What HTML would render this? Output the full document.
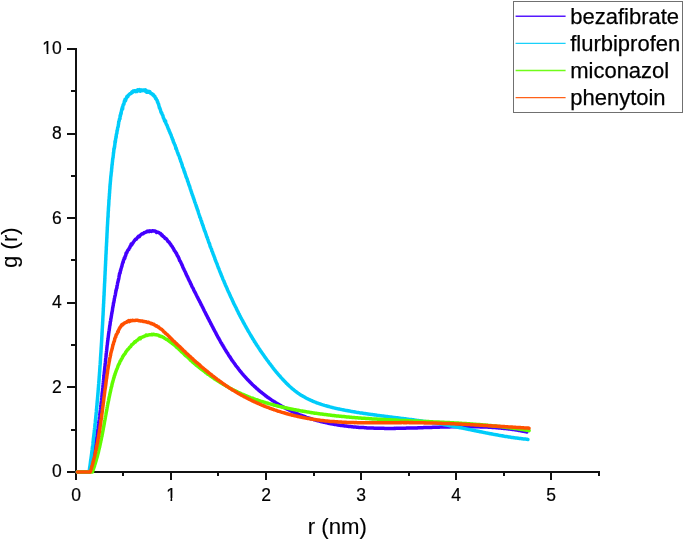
<!DOCTYPE html>
<html><head><meta charset="utf-8"><title>g(r)</title>
<style>html,body{margin:0;padding:0;background:#fff;}body{width:685px;height:540px;overflow:hidden;}svg{display:block;}</style>
</head><body>
<svg width="685" height="540" viewBox="0 0 685 540">
<rect width="685" height="540" fill="#fff"/>
<g stroke="#111" stroke-width="2" fill="none" shape-rendering="crispEdges">
<path d="M75 472 H600"/>
<path d="M76 473 V48"/>
<path d="M76 472 V480"/>
<path d="M123 472 V476"/>
<path d="M171 472 V480"/>
<path d="M218 472 V476"/>
<path d="M266 472 V480"/>
<path d="M314 472 V476"/>
<path d="M361 472 V480"/>
<path d="M409 472 V476"/>
<path d="M456 472 V480"/>
<path d="M504 472 V476"/>
<path d="M551 472 V480"/>
<path d="M599 472 V476"/>
<path d="M76 472 H67"/>
<path d="M76 430 H71"/>
<path d="M76 387 H67"/>
<path d="M76 345 H71"/>
<path d="M76 303 H67"/>
<path d="M76 260 H71"/>
<path d="M76 218 H67"/>
<path d="M76 176 H71"/>
<path d="M76 134 H67"/>
<path d="M76 91 H71"/>
<path d="M76 49 H67"/>
</g>
<path d="M77.3 472.0 L89.3 472.0 L89.5 471.2 L89.7 470.4 L89.9 469.7 L90.1 468.9 L90.3 468.1 L90.5 467.3 L90.7 466.6 L90.9 465.8 L91.1 465.0 L91.3 464.2 L91.5 463.4 L91.6 462.6 L91.8 461.8 L92.0 461.1 L92.2 460.3 L92.3 459.5 L92.5 458.7 L92.7 457.9 L92.9 457.1 L93.0 456.3 L93.2 455.6 L93.4 454.8 L93.5 454.0 L93.7 453.2 L93.8 452.5 L94.0 451.6 L94.1 450.9 L94.3 450.1 L94.4 449.3 L94.6 448.5 L94.7 447.7 L94.9 446.9 L95.0 446.1 L95.2 445.5 L95.3 444.6 L95.5 443.8 L95.6 443.1 L95.7 442.2 L95.9 441.4 L96.0 440.7 L96.1 439.9 L96.3 439.0 L96.4 438.3 L96.5 437.6 L96.7 436.6 L96.8 436.0 L96.9 435.2 L97.0 434.3 L97.2 433.7 L97.3 432.8 L97.4 431.9 L97.5 431.2 L97.7 430.5 L97.8 429.6 L97.9 428.9 L98.0 428.0 L98.1 427.3 L98.2 426.6 L98.3 425.6 L98.5 424.9 L98.6 424.0 L98.7 423.3 L98.8 422.4 L98.9 421.7 L99.0 420.9 L99.1 420.2 L99.2 419.5 L99.3 418.4 L99.4 417.7 L99.5 417.0 L99.6 415.9 L99.7 415.3 L99.8 414.6 L99.9 413.9 L100.0 413.1 L100.1 412.2 L100.2 411.4 L100.3 410.6 L100.4 410.0 L100.5 409.0 L100.6 408.2 L100.7 407.5 L100.8 406.6 L100.8 405.8 L100.9 404.9 L101.0 404.3 L101.1 403.4 L101.2 402.9 L101.3 402.0 L101.4 401.1 L101.5 400.4 L101.6 399.4 L101.6 398.9 L101.7 397.9 L101.8 397.2 L101.9 396.1 L102.0 395.6 L102.1 394.5 L102.1 393.6 L102.2 393.1 L102.3 392.2 L102.4 391.6 L102.5 391.1 L102.6 389.8 L102.6 389.1 L102.7 388.4 L102.8 387.7 L102.9 386.7 L103.0 385.9 L103.0 385.3 L103.1 384.5 L103.2 383.4 L103.3 382.8 L103.4 382.0 L103.4 381.0 L103.5 380.5 L103.6 379.4 L103.7 379.0 L103.8 378.1 L103.8 377.2 L103.9 376.3 L104.0 375.6 L104.1 374.4 L104.2 373.8 L104.2 373.3 L104.3 372.0 L104.4 371.8 L104.5 370.5 L104.6 370.2 L104.6 369.1 L104.7 368.7 L104.8 367.7 L104.9 366.5 L105.0 366.4 L105.1 365.6 L105.1 364.5 L105.2 363.6 L105.3 362.9 L105.4 361.9 L105.5 361.6 L105.6 360.4 L105.6 359.7 L105.7 358.7 L105.8 358.0 L105.9 357.0 L106.0 356.9 L106.1 355.7 L106.1 355.2 L106.2 354.2 L106.3 353.2 L106.4 352.5 L106.5 351.6 L106.6 351.0 L106.7 350.1 L106.8 349.3 L106.9 348.2 L106.9 347.6 L107.0 347.4 L107.1 346.0 L107.2 345.1 L107.3 344.7 L107.4 344.2 L107.5 342.6 L107.6 342.2 L107.7 341.3 L107.8 340.2 L107.9 340.1 L108.0 339.1 L108.1 338.3 L108.2 337.3 L108.3 336.8 L108.4 335.7 L108.5 335.1 L108.6 334.0 L108.7 333.1 L108.8 333.1 L108.9 331.8 L109.0 331.2 L109.2 330.3 L109.3 329.4 L109.4 328.6 L109.5 328.2 L109.6 327.1 L109.7 326.3 L109.8 325.6 L110.0 325.2 L110.1 324.2 L110.2 323.3 L110.3 322.2 L110.4 321.2 L110.6 321.2 L110.7 320.4 L110.8 319.2 L110.9 318.6 L111.1 317.9 L111.2 317.2 L111.3 316.4 L111.5 315.2 L111.6 315.0 L111.7 313.3 L111.9 313.2 L112.0 312.3 L112.1 311.7 L112.3 311.2 L112.4 310.3 L112.6 308.6 L112.7 307.6 L112.8 307.7 L113.0 306.3 L113.1 305.8 L113.3 305.4 L113.4 303.7 L113.6 302.7 L113.7 302.8 L113.9 301.9 L114.0 301.0 L114.2 300.4 L114.3 299.2 L114.5 298.2 L114.6 297.9 L114.8 296.8 L114.9 295.8 L115.1 295.8 L115.3 294.8 L115.4 294.2 L115.6 292.9 L115.7 292.3 L115.9 291.3 L116.1 290.6 L116.2 290.2 L116.4 289.1 L116.5 288.7 L116.7 288.0 L116.9 287.8 L117.0 285.7 L117.2 285.8 L117.4 284.7 L117.5 283.9 L117.7 282.5 L117.9 282.2 L118.0 281.9 L118.2 280.8 L118.4 280.1 L118.6 279.1 L118.7 278.9 L118.9 277.7 L119.1 276.0 L119.3 275.9 L119.4 274.5 L119.6 273.2 L119.8 273.6 L120.0 273.6 L120.2 272.3 L120.4 271.0 L120.5 270.3 L120.7 270.5 L120.9 269.3 L121.1 268.5 L121.4 267.6 L121.6 266.9 L121.8 266.5 L122.0 265.6 L122.2 264.7 L122.5 263.4 L122.7 263.3 L122.9 262.0 L123.2 262.1 L123.5 260.3 L123.7 260.0 L124.0 259.3 L124.3 258.0 L124.6 258.6 L124.9 257.8 L125.2 256.1 L125.5 256.0 L125.8 255.1 L126.1 252.9 L126.4 253.5 L126.8 252.7 L127.1 252.0 L127.5 250.7 L127.9 250.4 L128.3 249.7 L128.7 249.6 L129.1 248.5 L129.5 247.6 L129.9 247.7 L130.3 246.0 L130.8 245.4 L131.2 244.0 L131.7 244.9 L132.2 244.0 L132.7 243.3 L133.2 242.5 L133.7 241.6 L134.2 241.0 L134.7 240.2 L135.3 239.6 L135.8 239.1 L136.4 239.2 L137.0 238.2 L137.6 237.4 L138.2 236.7 L138.8 236.1 L139.4 236.6 L140.0 235.6 L140.6 235.0 L141.3 234.4 L142.0 233.7 L142.6 233.7 L143.3 233.7 L144.0 232.8 L144.7 232.6 L145.4 232.3 L146.2 232.1 L146.9 231.2 L147.6 231.5 L148.4 231.1 L149.1 231.6 L149.9 230.8 L150.7 231.2 L151.4 231.5 L152.2 230.8 L152.9 230.7 L153.7 231.1 L154.4 231.1 L155.2 231.0 L155.9 231.7 L156.6 232.4 L157.3 232.0 L158.0 232.3 L158.7 232.4 L159.4 233.2 L160.0 233.2 L160.7 233.7 L161.3 234.9 L162.0 234.7 L162.6 235.9 L163.2 236.5 L163.8 236.7 L164.4 237.4 L165.0 238.4 L165.6 238.3 L166.1 238.8 L166.7 239.2 L167.2 240.2 L167.8 241.2 L168.3 241.7 L168.8 241.8 L169.3 242.5 L169.8 243.2 L170.3 244.1 L170.8 244.6 L171.2 245.4 L171.7 246.1 L172.2 246.6 L172.6 247.3 L173.0 248.0 L173.5 248.7 L173.9 249.5 L174.3 250.5 L174.7 250.9 L175.1 251.5 L175.5 251.7 L175.9 253.0 L176.3 253.1 L176.7 253.9 L177.1 255.2 L177.5 255.9 L177.8 256.4 L178.2 256.7 L178.6 257.8 L178.9 258.4 L179.3 259.5 L179.6 260.6 L180.0 260.8 L180.3 261.3 L180.7 262.0 L181.0 263.0 L181.4 263.7 L181.7 264.2 L182.0 265.2 L182.4 265.7 L182.7 266.9 L183.1 267.6 L183.4 268.4 L183.7 268.8 L184.1 269.7 L184.4 270.3 L184.7 271.0 L185.1 271.7 L185.4 272.3 L185.7 273.0 L186.1 274.1 L186.4 274.7 L186.8 275.5 L187.1 276.3 L187.4 276.5 L187.8 277.4 L188.1 278.3 L188.5 279.1 L188.8 279.7 L189.2 280.7 L189.5 281.2 L189.8 281.7 L190.2 282.4 L190.5 283.5 L190.9 284.1 L191.2 284.4 L191.6 285.7 L191.9 286.3 L192.3 287.1 L192.6 287.5 L193.0 288.2 L193.3 288.8 L193.7 290.1 L194.0 290.4 L194.4 291.4 L194.7 291.7 L195.1 292.6 L195.4 293.0 L195.8 293.9 L196.2 294.8 L196.5 295.2 L196.9 296.2 L197.2 296.8 L197.6 297.3 L197.9 298.1 L198.3 298.8 L198.6 299.6 L199.0 300.2 L199.4 300.9 L199.7 301.7 L200.1 302.3 L200.4 302.9 L200.8 303.8 L201.2 304.7 L201.5 305.0 L201.9 305.9 L202.2 306.6 L202.6 307.2 L203.0 308.2 L203.3 308.7 L203.7 309.7 L204.0 310.1 L204.4 311.0 L204.7 311.6 L205.1 312.2 L205.5 313.1 L205.8 313.7 L206.2 314.6 L206.5 315.2 L206.9 315.8 L207.3 316.6 L207.6 317.3 L208.0 318.2 L208.4 318.6 L208.7 319.5 L209.1 320.0 L209.5 321.0 L209.8 321.5 L210.2 322.1 L210.6 323.0 L210.9 323.9 L211.3 324.3 L211.7 325.0 L212.0 325.8 L212.4 326.5 L212.8 327.4 L213.1 327.9 L213.5 328.7 L213.9 329.5 L214.3 330.1 L214.6 330.9 L215.0 331.5 L215.4 332.2 L215.8 332.8 L216.2 333.9 L216.5 334.4 L216.9 335.2 L217.3 335.8 L217.7 336.6 L218.1 337.3 L218.5 338.2 L218.9 338.6 L219.2 339.2 L219.6 340.0 L220.0 340.6 L220.4 341.5 L220.8 342.3 L221.2 342.8 L221.6 343.4 L222.0 344.2 L222.4 345.1 L222.8 345.4 L223.3 346.4 L223.7 346.9 L224.1 347.8 L224.5 348.3 L224.9 349.1 L225.3 349.7 L225.7 350.4 L226.2 351.3 L226.6 351.9 L227.0 352.5 L227.4 353.1 L227.9 353.7 L228.3 354.5 L228.7 355.2 L229.2 355.9 L229.6 356.6 L230.1 357.1 L230.5 357.9 L230.9 358.6 L231.4 359.3 L231.8 360.1 L232.3 360.5 L232.8 361.2 L233.2 361.9 L233.7 362.5 L234.1 363.1 L234.6 363.8 L235.1 364.4 L235.6 365.2 L236.0 365.8 L236.5 366.4 L237.0 367.0 L237.5 367.6 L238.0 368.2 L238.4 368.9 L238.9 369.5 L239.4 370.2 L239.9 370.8 L240.4 371.4 L240.9 372.1 L241.4 372.6 L242.0 373.3 L242.5 373.9 L243.0 374.4 L243.5 375.1 L244.0 375.7 L244.6 376.3 L245.1 376.9 L245.6 377.5 L246.2 378.1 L246.7 378.7 L247.3 379.3 L247.8 379.9 L248.4 380.4 L248.9 381.0 L249.5 381.6 L250.0 382.2 L250.6 382.7 L251.2 383.3 L251.7 383.8 L252.3 384.4 L252.9 385.0 L253.5 385.5 L254.1 386.1 L254.7 386.6 L255.3 387.2 L255.9 387.7 L256.5 388.3 L257.1 388.8 L257.7 389.2 L258.3 389.9 L258.9 390.4 L259.5 390.9 L260.1 391.4 L260.8 391.8 L261.4 392.4 L262.0 392.9 L262.6 393.3 L263.3 393.9 L263.9 394.3 L264.6 394.8 L265.2 395.3 L265.8 395.9 L266.5 396.3 L267.1 396.8 L267.8 397.4 L268.5 397.8 L269.1 398.2 L269.8 398.7 L270.4 399.1 L271.1 399.6 L271.8 400.1 L272.4 400.5 L273.1 400.9 L273.8 401.4 L274.5 401.8 L275.1 402.2 L275.8 402.7 L276.5 403.1 L277.2 403.6 L277.9 403.9 L278.6 404.3 L279.2 404.8 L279.9 405.1 L280.6 405.5 L281.3 406.0 L282.0 406.3 L282.7 406.7 L283.4 407.1 L284.1 407.5 L284.8 407.9 L285.5 408.2 L286.2 408.5 L286.9 409.0 L287.7 409.4 L288.4 409.7 L289.1 410.0 L289.8 410.4 L290.5 410.8 L291.2 411.0 L291.9 411.4 L292.7 411.8 L293.4 412.1 L294.1 412.5 L294.8 412.8 L295.6 413.0 L296.3 413.4 L297.0 413.7 L297.7 413.9 L298.5 414.3 L299.2 414.6 L299.9 414.9 L300.6 415.1 L301.4 415.4 L302.1 415.7 L302.8 416.0 L303.6 416.2 L304.3 416.5 L305.1 416.7 L305.8 417.0 L306.5 417.3 L307.3 417.6 L308.0 417.8 L308.8 418.0 L309.5 418.3 L310.3 418.5 L311.0 418.7 L311.7 418.9 L312.5 419.2 L313.2 419.4 L314.0 419.7 L314.7 419.9 L315.5 420.1 L316.2 420.3 L317.0 420.5 L317.8 420.7 L318.5 420.9 L319.3 421.1 L320.0 421.3 L320.8 421.5 L321.5 421.7 L322.3 421.8 L323.1 422.0 L323.8 422.2 L324.6 422.4 L325.4 422.6 L326.1 422.7 L326.9 422.9 L327.7 423.1 L328.4 423.3 L329.2 423.4 L330.0 423.5 L330.7 423.7 L331.5 423.8 L332.3 424.0 L333.0 424.1 L333.8 424.3 L334.6 424.4 L335.4 424.5 L336.1 424.6 L336.9 424.8 L337.7 424.9 L338.5 425.0 L339.3 425.2 L340.0 425.3 L340.8 425.4 L341.6 425.5 L342.4 425.6 L343.2 425.7 L343.9 425.8 L344.7 425.9 L345.5 426.0 L346.3 426.1 L347.1 426.2 L347.9 426.3 L348.6 426.4 L349.4 426.5 L350.2 426.5 L351.0 426.6 L351.8 426.8 L352.6 426.8 L353.4 426.9 L354.2 427.0 L355.0 427.1 L355.8 427.1 L356.6 427.2 L357.3 427.3 L358.1 427.3 L358.9 427.4 L359.7 427.4 L360.5 427.5 L361.3 427.6 L362.1 427.6 L362.9 427.6 L363.7 427.6 L364.5 427.7 L365.3 427.8 L366.1 427.8 L366.9 427.9 L367.7 427.9 L368.5 427.9 L369.3 428.0 L370.1 428.0 L370.9 428.0 L371.7 428.1 L372.5 428.1 L373.3 428.1 L374.1 428.2 L374.9 428.2 L375.7 428.2 L376.5 428.3 L377.4 428.2 L378.2 428.2 L379.0 428.3 L379.8 428.3 L380.6 428.3 L381.4 428.3 L382.2 428.3 L383.0 428.3 L383.8 428.3 L384.6 428.4 L385.4 428.4 L386.2 428.4 L387.0 428.4 L387.9 428.4 L388.7 428.4 L389.5 428.4 L390.3 428.4 L391.1 428.4 L391.9 428.4 L392.7 428.4 L393.5 428.4 L394.4 428.3 L395.2 428.4 L396.0 428.3 L396.8 428.3 L397.6 428.3 L398.4 428.3 L399.2 428.3 L400.0 428.3 L400.9 428.3 L401.7 428.3 L402.5 428.3 L403.3 428.2 L404.1 428.2 L404.9 428.2 L405.7 428.2 L406.6 428.1 L407.4 428.1 L408.2 428.1 L409.0 428.1 L409.8 428.1 L410.6 428.1 L411.5 428.0 L412.3 428.0 L413.1 428.0 L413.9 428.0 L414.7 427.9 L415.5 427.9 L416.3 427.9 L417.2 427.9 L418.0 427.8 L418.8 427.8 L419.6 427.8 L420.4 427.8 L421.2 427.7 L422.1 427.7 L422.9 427.7 L423.7 427.6 L424.5 427.6 L425.3 427.6 L426.1 427.6 L427.0 427.5 L427.8 427.5 L428.6 427.5 L429.4 427.5 L430.2 427.4 L431.0 427.4 L431.8 427.4 L432.7 427.3 L433.5 427.3 L434.3 427.3 L435.1 427.3 L435.9 427.2 L436.7 427.2 L437.6 427.2 L438.4 427.2 L439.2 427.2 L440.0 427.1 L440.8 427.1 L441.6 427.1 L442.4 427.1 L443.2 427.0 L444.1 427.0 L444.9 427.0 L445.7 427.0 L446.5 426.9 L447.3 426.9 L448.1 426.9 L448.9 426.9 L449.7 426.9 L450.6 426.8 L451.4 426.8 L452.2 426.8 L453.0 426.8 L453.8 426.8 L454.6 426.8 L455.4 426.7 L456.2 426.7 L457.0 426.7 L457.8 426.7 L458.7 426.7 L459.5 426.7 L460.3 426.7 L461.1 426.7 L461.9 426.7 L462.7 426.7 L463.5 426.7 L464.3 426.7 L465.1 426.7 L465.9 426.6 L466.7 426.6 L467.5 426.7 L468.3 426.6 L469.1 426.6 L469.9 426.7 L470.7 426.7 L471.5 426.7 L472.3 426.7 L473.1 426.7 L473.9 426.7 L474.7 426.7 L475.5 426.7 L476.3 426.7 L477.1 426.8 L477.9 426.8 L478.7 426.8 L479.5 426.8 L480.3 426.9 L481.1 426.9 L481.9 426.9 L482.7 426.9 L483.5 427.0 L484.3 427.0 L485.1 427.0 L485.9 427.1 L486.7 427.1 L487.5 427.1 L488.3 427.2 L489.0 427.2 L489.8 427.3 L490.6 427.3 L491.4 427.3 L492.2 427.4 L493.0 427.4 L493.8 427.5 L494.6 427.6 L495.3 427.6 L496.1 427.7 L496.9 427.7 L497.7 427.8 L498.5 427.9 L499.3 427.9 L500.0 428.0 L500.8 428.1 L501.6 428.2 L502.4 428.2 L503.1 428.3 L503.9 428.4 L504.7 428.5 L505.5 428.5 L506.2 428.6 L507.0 428.7 L507.8 428.8 L508.6 428.9 L509.3 429.0 L510.1 429.1 L510.9 429.2 L511.6 429.3 L512.4 429.4 L513.2 429.5 L513.9 429.6 L514.7 429.7 L515.5 429.8 L516.2 430.0 L517.0 430.1 L517.8 430.2 L518.5 430.4 L519.3 430.5 L520.0 430.6 L520.8 430.8 L521.6 430.9 L522.3 431.0 L523.1 431.2 L523.8 431.3 L524.6 431.5 L525.3 431.6 L526.1 431.8 L526.8 431.9" fill="none" stroke="#4400FE" stroke-width="3.5" stroke-linejoin="round" stroke-linecap="round"/>
<path d="M77.3 472.0 L89.0 472.1 L89.2 471.3 L89.3 470.5 L89.4 469.7 L89.5 468.9 L89.6 468.1 L89.7 467.3 L89.9 466.6 L90.0 465.8 L90.1 465.0 L90.2 464.2 L90.3 463.4 L90.4 462.6 L90.5 461.8 L90.6 461.0 L90.7 460.2 L90.8 459.4 L91.0 458.7 L91.1 457.8 L91.2 457.0 L91.3 456.3 L91.4 455.5 L91.5 454.6 L91.6 453.9 L91.7 453.1 L91.8 452.3 L91.9 451.5 L92.0 450.7 L92.1 449.8 L92.2 449.2 L92.3 448.3 L92.4 447.4 L92.5 446.7 L92.6 446.0 L92.7 445.1 L92.8 444.5 L92.9 443.7 L93.0 442.7 L93.1 441.8 L93.2 441.1 L93.3 440.5 L93.3 439.5 L93.4 438.7 L93.5 437.9 L93.6 437.2 L93.7 436.4 L93.8 435.7 L93.9 434.9 L94.0 434.0 L94.1 433.2 L94.2 432.4 L94.3 431.7 L94.3 430.8 L94.4 430.0 L94.5 429.5 L94.6 428.5 L94.7 427.8 L94.8 427.2 L94.9 426.2 L94.9 425.3 L95.0 424.5 L95.1 423.7 L95.2 423.0 L95.3 422.1 L95.4 421.5 L95.4 420.5 L95.5 419.7 L95.6 418.9 L95.7 418.2 L95.8 417.4 L95.8 416.7 L95.9 415.7 L96.0 415.0 L96.1 414.4 L96.1 413.4 L96.2 412.7 L96.3 412.0 L96.4 411.1 L96.4 410.1 L96.5 409.1 L96.6 409.0 L96.7 407.9 L96.7 407.2 L96.8 406.2 L96.9 405.7 L97.0 404.7 L97.0 403.9 L97.1 402.9 L97.2 402.3 L97.2 401.4 L97.3 400.6 L97.4 399.6 L97.5 399.0 L97.5 398.3 L97.6 397.3 L97.7 396.7 L97.7 396.0 L97.8 395.1 L97.9 394.2 L97.9 393.4 L98.0 392.9 L98.1 391.7 L98.1 391.1 L98.2 390.3 L98.3 389.6 L98.3 388.7 L98.4 387.7 L98.5 387.5 L98.5 386.4 L98.6 385.3 L98.6 384.6 L98.7 384.0 L98.8 383.3 L98.8 382.1 L98.9 381.7 L99.0 380.5 L99.0 379.8 L99.1 379.3 L99.1 378.7 L99.2 377.6 L99.2 376.7 L99.3 376.3 L99.4 375.0 L99.4 374.5 L99.5 373.6 L99.5 373.0 L99.6 372.1 L99.7 371.1 L99.7 370.5 L99.8 369.4 L99.8 369.0 L99.9 367.9 L99.9 367.0 L100.0 366.3 L100.0 365.6 L100.1 365.0 L100.2 364.0 L100.2 363.4 L100.3 362.7 L100.3 361.6 L100.4 360.6 L100.4 360.3 L100.5 359.3 L100.5 357.9 L100.6 357.4 L100.6 356.9 L100.7 355.7 L100.7 355.1 L100.8 354.0 L100.8 353.8 L100.9 352.9 L100.9 352.1 L101.0 351.6 L101.0 350.4 L101.1 349.6 L101.1 349.4 L101.2 347.7 L101.2 347.5 L101.3 346.1 L101.3 345.8 L101.4 345.5 L101.4 344.2 L101.5 343.1 L101.5 343.2 L101.6 341.5 L101.6 340.8 L101.7 340.2 L101.7 338.9 L101.7 338.8 L101.8 338.2 L101.8 337.1 L101.9 336.2 L101.9 335.3 L102.0 334.8 L102.0 332.8 L102.1 332.9 L102.1 332.2 L102.2 330.7 L102.2 330.7 L102.2 329.7 L102.3 328.9 L102.3 328.2 L102.4 327.5 L102.4 326.7 L102.5 325.4 L102.5 324.9 L102.6 324.1 L102.6 323.3 L102.6 322.3 L102.7 322.1 L102.7 321.4 L102.8 320.6 L102.8 320.0 L102.8 319.0 L102.9 317.6 L102.9 316.7 L103.0 316.0 L103.0 315.5 L103.1 314.5 L103.1 314.1 L103.1 313.5 L103.2 312.0 L103.2 311.7 L103.3 310.4 L103.3 309.3 L103.3 308.5 L103.4 308.1 L103.4 306.7 L103.5 306.7 L103.5 306.3 L103.5 304.6 L103.6 304.0 L103.6 303.9 L103.7 302.7 L103.7 301.8 L103.7 300.9 L103.8 300.6 L103.8 299.5 L103.9 298.2 L103.9 296.9 L103.9 296.0 L104.0 296.4 L104.0 295.3 L104.1 295.1 L104.1 294.0 L104.1 292.5 L104.2 292.3 L104.2 291.9 L104.3 290.2 L104.3 289.6 L104.3 289.7 L104.4 287.5 L104.4 287.0 L104.4 287.0 L104.5 285.9 L104.5 284.5 L104.6 283.6 L104.6 283.6 L104.6 283.1 L104.7 282.1 L104.7 281.2 L104.8 280.8 L104.8 279.5 L104.8 278.3 L104.9 278.7 L104.9 276.5 L104.9 276.2 L105.0 275.4 L105.0 275.2 L105.1 273.5 L105.1 272.9 L105.1 271.4 L105.2 271.6 L105.2 270.8 L105.3 270.1 L105.3 268.6 L105.3 268.3 L105.4 267.0 L105.4 266.4 L105.4 265.8 L105.5 265.6 L105.5 264.0 L105.6 263.5 L105.6 262.2 L105.6 261.6 L105.7 260.7 L105.7 260.2 L105.8 259.8 L105.8 258.1 L105.8 258.2 L105.9 256.6 L105.9 256.4 L105.9 255.2 L106.0 254.5 L106.0 253.7 L106.1 253.6 L106.1 252.4 L106.1 251.9 L106.2 250.5 L106.2 249.7 L106.3 249.8 L106.3 247.4 L106.3 247.0 L106.4 246.6 L106.4 246.7 L106.5 244.7 L106.5 244.6 L106.5 244.2 L106.6 242.5 L106.6 241.8 L106.7 241.9 L106.7 240.0 L106.8 238.9 L106.8 239.1 L106.8 237.6 L106.9 237.7 L106.9 236.5 L107.0 234.6 L107.0 234.8 L107.0 233.9 L107.1 232.7 L107.1 232.8 L107.2 230.5 L107.2 230.0 L107.3 229.6 L107.3 229.5 L107.3 227.5 L107.4 227.1 L107.4 226.3 L107.5 225.1 L107.5 224.9 L107.6 223.7 L107.6 223.2 L107.6 222.8 L107.7 221.4 L107.7 220.6 L107.8 219.7 L107.8 219.0 L107.9 217.8 L107.9 217.2 L108.0 217.1 L108.0 215.8 L108.1 217.3 L108.1 214.2 L108.1 214.1 L108.2 212.3 L108.2 212.1 L108.3 211.2 L108.3 210.7 L108.4 210.7 L108.4 209.0 L108.5 207.6 L108.5 207.6 L108.6 206.2 L108.6 205.8 L108.7 206.0 L108.7 204.9 L108.8 204.2 L108.8 203.0 L108.9 201.9 L108.9 200.2 L109.0 200.1 L109.0 199.2 L109.1 199.2 L109.2 198.5 L109.2 197.4 L109.3 195.9 L109.3 196.7 L109.4 195.6 L109.4 193.8 L109.5 193.3 L109.6 192.8 L109.6 191.6 L109.7 190.7 L109.7 190.3 L109.8 189.2 L109.9 188.5 L109.9 186.6 L110.0 185.8 L110.0 187.1 L110.1 184.3 L110.2 184.7 L110.2 183.8 L110.3 183.0 L110.4 181.6 L110.4 181.9 L110.5 180.7 L110.6 179.4 L110.7 178.0 L110.7 177.9 L110.8 176.9 L110.9 175.7 L111.0 175.9 L111.0 175.2 L111.1 174.6 L111.2 173.4 L111.3 172.3 L111.3 172.4 L111.4 171.4 L111.5 171.6 L111.6 169.7 L111.7 167.9 L111.8 168.4 L111.8 168.5 L111.9 166.3 L112.0 165.2 L112.1 164.2 L112.2 165.0 L112.3 162.9 L112.4 162.0 L112.5 161.6 L112.6 159.7 L112.7 159.6 L112.8 158.2 L112.9 158.1 L113.0 157.8 L113.1 157.3 L113.2 155.6 L113.3 155.6 L113.4 154.0 L113.5 152.4 L113.6 153.1 L113.7 151.8 L113.8 151.2 L113.9 148.5 L114.0 149.7 L114.1 148.9 L114.3 148.1 L114.4 147.9 L114.5 146.1 L114.6 147.1 L114.7 145.3 L114.9 144.4 L115.0 141.5 L115.1 141.1 L115.2 142.7 L115.4 141.2 L115.5 140.8 L115.6 139.0 L115.8 138.4 L115.9 138.2 L116.0 136.4 L116.2 137.1 L116.3 134.6 L116.4 134.8 L116.6 133.6 L116.7 133.3 L116.9 133.2 L117.0 130.6 L117.2 131.0 L117.3 130.0 L117.5 129.7 L117.6 128.3 L117.8 127.2 L117.9 127.1 L118.1 127.0 L118.3 125.8 L118.4 124.5 L118.6 123.9 L118.7 121.7 L118.9 121.6 L119.1 121.1 L119.3 120.1 L119.4 119.2 L119.6 118.9 L119.8 118.4 L120.0 118.8 L120.1 116.0 L120.3 115.1 L120.5 115.8 L120.7 114.3 L120.9 112.8 L121.1 113.8 L121.3 111.7 L121.5 110.8 L121.7 109.8 L121.9 108.8 L122.1 108.9 L122.3 107.3 L122.6 109.2 L122.8 106.7 L123.0 105.5 L123.3 104.4 L123.6 104.4 L123.9 104.3 L124.1 102.9 L124.4 101.1 L124.8 101.1 L125.1 99.2 L125.4 101.0 L125.8 99.7 L126.1 98.6 L126.5 98.0 L126.9 96.6 L127.4 96.3 L127.8 96.6 L128.3 95.2 L128.8 95.1 L129.3 94.3 L129.9 93.8 L130.5 93.4 L131.1 93.5 L131.8 92.1 L132.5 92.5 L133.2 91.1 L133.9 91.0 L134.7 90.7 L135.4 91.6 L136.2 90.6 L137.0 91.5 L137.8 89.9 L138.6 90.7 L139.4 89.6 L140.2 91.1 L141.1 89.9 L141.9 90.7 L142.7 90.0 L143.5 90.1 L144.3 90.8 L145.1 89.8 L145.9 90.3 L146.6 92.1 L147.4 91.0 L148.2 92.2 L148.9 91.5 L149.6 91.4 L150.3 92.5 L150.9 93.6 L151.6 93.5 L152.2 93.8 L152.8 94.9 L153.3 94.6 L153.9 95.9 L154.3 96.3 L154.8 96.2 L155.3 97.8 L155.7 98.6 L156.1 98.5 L156.4 99.4 L156.8 99.9 L157.1 100.2 L157.4 101.9 L157.7 101.8 L158.0 103.3 L158.3 103.6 L158.6 104.1 L158.9 105.7 L159.1 106.3 L159.4 107.9 L159.7 107.7 L159.9 108.6 L160.2 109.4 L160.5 110.0 L160.8 111.5 L161.1 112.4 L161.4 112.8 L161.7 112.7 L162.0 114.2 L162.3 114.7 L162.6 115.3 L162.9 115.5 L163.2 117.3 L163.6 118.2 L163.9 118.6 L164.2 119.4 L164.5 120.7 L164.8 121.5 L165.2 121.5 L165.5 120.8 L165.8 123.1 L166.1 123.6 L166.4 124.6 L166.7 124.8 L167.1 125.3 L167.4 126.7 L167.7 127.1 L168.0 128.0 L168.3 128.9 L168.6 129.5 L168.9 129.6 L169.2 131.1 L169.5 131.4 L169.8 132.3 L170.1 133.3 L170.4 133.3 L170.7 134.5 L171.0 134.6 L171.3 135.8 L171.6 136.9 L171.9 137.5 L172.2 138.1 L172.4 139.2 L172.7 139.6 L173.0 139.8 L173.3 141.6 L173.6 142.0 L173.9 143.0 L174.2 143.2 L174.4 144.0 L174.7 144.6 L175.0 144.9 L175.3 146.2 L175.6 146.9 L175.8 148.4 L176.1 147.9 L176.4 149.3 L176.7 150.0 L177.0 150.8 L177.2 151.5 L177.5 152.3 L177.8 153.3 L178.0 153.2 L178.3 154.8 L178.6 155.1 L178.9 155.6 L179.1 156.1 L179.4 156.8 L179.7 158.2 L179.9 158.6 L180.2 159.3 L180.5 160.3 L180.7 161.2 L181.0 161.8 L181.3 162.3 L181.6 163.2 L181.8 164.1 L182.1 164.6 L182.3 166.0 L182.6 166.8 L182.9 167.6 L183.1 167.8 L183.4 168.6 L183.7 169.1 L183.9 170.6 L184.2 170.8 L184.5 172.4 L184.7 171.8 L185.0 173.3 L185.3 174.1 L185.5 174.7 L185.8 175.6 L186.0 176.8 L186.3 177.0 L186.6 178.0 L186.8 178.3 L187.1 178.9 L187.3 179.7 L187.6 181.0 L187.9 181.6 L188.1 181.8 L188.4 183.1 L188.6 183.9 L188.9 184.7 L189.2 185.6 L189.4 185.6 L189.7 186.5 L189.9 187.3 L190.2 188.4 L190.5 189.4 L190.7 189.7 L191.0 190.7 L191.2 191.6 L191.5 192.0 L191.7 193.1 L192.0 193.6 L192.3 194.9 L192.5 195.5 L192.8 195.8 L193.0 196.5 L193.3 197.9 L193.6 198.0 L193.8 199.3 L194.1 199.6 L194.3 200.2 L194.6 201.7 L194.8 202.1 L195.1 202.5 L195.4 203.5 L195.6 204.1 L195.9 204.8 L196.1 205.8 L196.4 206.8 L196.7 207.0 L196.9 208.2 L197.2 208.5 L197.4 209.6 L197.7 210.0 L197.9 210.8 L198.2 211.7 L198.5 212.9 L198.7 213.6 L199.0 214.1 L199.2 214.8 L199.5 215.7 L199.8 217.1 L200.0 217.3 L200.3 217.9 L200.6 218.6 L200.8 219.4 L201.1 220.4 L201.3 221.1 L201.6 221.2 L201.9 223.0 L202.1 223.4 L202.4 224.0 L202.7 225.4 L202.9 225.2 L203.2 226.0 L203.4 227.3 L203.7 227.8 L204.0 228.8 L204.2 229.6 L204.5 230.5 L204.8 231.0 L205.0 231.5 L205.3 232.0 L205.6 233.2 L205.8 233.6 L206.1 234.7 L206.4 235.3 L206.6 236.3 L206.9 237.1 L207.2 237.7 L207.5 238.2 L207.7 239.2 L208.0 239.8 L208.3 240.8 L208.5 241.4 L208.8 242.7 L209.1 242.9 L209.4 243.4 L209.6 244.3 L209.9 245.3 L210.2 246.6 L210.5 247.0 L210.7 247.4 L211.0 248.3 L211.3 248.8 L211.6 249.5 L211.8 250.7 L212.1 251.4 L212.4 251.9 L212.7 252.7 L213.0 253.6 L213.2 254.4 L213.5 254.9 L213.8 255.5 L214.1 256.7 L214.4 257.2 L214.7 257.8 L214.9 258.8 L215.2 259.6 L215.5 260.5 L215.8 261.0 L216.1 261.9 L216.4 262.4 L216.7 263.4 L217.0 263.8 L217.3 264.9 L217.5 265.6 L217.8 266.1 L218.1 267.0 L218.4 268.1 L218.7 268.4 L219.0 269.0 L219.3 270.0 L219.6 270.8 L219.9 271.7 L220.2 272.3 L220.5 273.0 L220.8 273.7 L221.1 274.6 L221.4 275.2 L221.7 276.1 L222.0 276.5 L222.3 277.4 L222.6 278.2 L222.9 279.1 L223.2 279.8 L223.6 280.5 L223.9 281.3 L224.2 281.9 L224.5 283.1 L224.8 283.2 L225.1 284.1 L225.4 285.1 L225.7 285.7 L226.1 286.4 L226.4 287.2 L226.7 287.7 L227.0 288.5 L227.3 289.3 L227.7 290.2 L228.0 290.8 L228.3 291.7 L228.6 292.2 L229.0 292.9 L229.3 293.4 L229.6 294.4 L229.9 294.8 L230.3 295.9 L230.6 296.7 L230.9 297.3 L231.3 297.9 L231.6 298.7 L231.9 299.1 L232.3 300.1 L232.6 300.9 L233.0 301.6 L233.3 302.3 L233.6 303.2 L234.0 303.8 L234.3 304.5 L234.7 305.2 L235.0 305.8 L235.4 306.6 L235.7 307.1 L236.1 307.7 L236.4 308.7 L236.8 309.6 L237.1 310.1 L237.5 311.0 L237.8 311.4 L238.2 312.3 L238.5 313.1 L238.9 313.8 L239.3 314.3 L239.6 315.2 L240.0 316.0 L240.4 316.6 L240.7 317.5 L241.1 318.0 L241.5 318.7 L241.8 319.5 L242.2 320.0 L242.6 320.7 L243.0 321.6 L243.3 322.2 L243.7 322.8 L244.1 323.7 L244.5 324.2 L244.9 325.0 L245.2 325.6 L245.6 326.3 L246.0 326.8 L246.4 327.8 L246.8 328.5 L247.2 329.1 L247.6 329.8 L248.0 330.6 L248.4 331.4 L248.8 332.0 L249.2 332.5 L249.6 333.3 L250.0 334.0 L250.4 334.7 L250.8 335.3 L251.2 336.2 L251.6 336.6 L252.0 337.3 L252.4 338.1 L252.8 338.9 L253.2 339.3 L253.7 340.1 L254.1 340.8 L254.5 341.7 L254.9 342.0 L255.3 342.9 L255.8 343.4 L256.2 344.1 L256.6 344.9 L257.0 345.5 L257.5 346.0 L257.9 346.8 L258.3 347.4 L258.8 348.1 L259.2 348.7 L259.7 349.4 L260.1 350.1 L260.5 350.8 L261.0 351.4 L261.4 352.1 L261.9 352.8 L262.3 353.4 L262.8 354.0 L263.2 354.6 L263.7 355.3 L264.2 356.0 L264.6 356.6 L265.1 357.4 L265.5 357.9 L266.0 358.5 L266.5 359.2 L267.0 359.9 L267.4 360.5 L267.9 361.1 L268.4 361.7 L268.8 362.4 L269.3 363.1 L269.8 363.7 L270.3 364.3 L270.8 365.0 L271.3 365.6 L271.8 366.2 L272.2 366.9 L272.7 367.5 L273.2 368.2 L273.7 368.7 L274.2 369.5 L274.7 370.1 L275.2 370.7 L275.7 371.3 L276.2 372.0 L276.7 372.5 L277.3 373.2 L277.8 373.7 L278.3 374.4 L278.8 375.0 L279.3 375.6 L279.9 376.0 L280.4 376.8 L280.9 377.4 L281.4 378.0 L282.0 378.5 L282.5 379.1 L283.1 379.8 L283.6 380.3 L284.2 380.9 L284.7 381.5 L285.3 382.1 L285.8 382.6 L286.4 383.3 L287.0 383.7 L287.5 384.3 L288.1 384.9 L288.7 385.4 L289.2 386.0 L289.8 386.5 L290.4 387.0 L291.0 387.5 L291.6 388.1 L292.2 388.6 L292.8 389.1 L293.4 389.5 L294.0 390.1 L294.7 390.6 L295.3 391.1 L295.9 391.5 L296.5 392.1 L297.2 392.4 L297.8 393.0 L298.5 393.4 L299.1 393.8 L299.8 394.3 L300.4 394.8 L301.1 395.2 L301.7 395.6 L302.4 395.9 L303.1 396.4 L303.8 396.7 L304.5 397.1 L305.2 397.5 L305.9 397.9 L306.6 398.3 L307.3 398.6 L308.0 399.0 L308.7 399.3 L309.4 399.7 L310.1 400.0 L310.9 400.3 L311.6 400.6 L312.3 401.0 L313.1 401.3 L313.8 401.6 L314.5 401.9 L315.3 402.2 L316.0 402.5 L316.8 402.8 L317.5 403.1 L318.3 403.3 L319.1 403.6 L319.8 403.8 L320.6 404.1 L321.4 404.4 L322.1 404.6 L322.9 404.9 L323.7 405.1 L324.5 405.4 L325.2 405.6 L326.0 405.8 L326.8 406.0 L327.6 406.2 L328.4 406.5 L329.2 406.6 L330.0 406.9 L330.8 407.1 L331.5 407.3 L332.3 407.4 L333.1 407.7 L333.9 407.9 L334.7 408.1 L335.5 408.3 L336.3 408.4 L337.1 408.6 L337.9 408.8 L338.8 409.0 L339.6 409.1 L340.4 409.3 L341.2 409.4 L342.0 409.6 L342.8 409.8 L343.6 410.0 L344.4 410.1 L345.2 410.3 L346.0 410.4 L346.8 410.5 L347.6 410.7 L348.4 410.8 L349.2 411.0 L350.0 411.1 L350.8 411.3 L351.6 411.4 L352.4 411.6 L353.2 411.7 L354.0 411.8 L354.8 412.0 L355.6 412.1 L356.4 412.3 L357.2 412.4 L358.0 412.5 L358.8 412.6 L359.6 412.8 L360.4 412.9 L361.2 413.0 L362.0 413.1 L362.8 413.2 L363.6 413.4 L364.4 413.5 L365.2 413.6 L366.0 413.7 L366.8 413.8 L367.6 413.9 L368.4 414.1 L369.2 414.2 L370.0 414.3 L370.8 414.4 L371.5 414.5 L372.3 414.6 L373.1 414.7 L373.9 414.8 L374.7 415.0 L375.5 415.0 L376.3 415.1 L377.1 415.3 L377.9 415.4 L378.6 415.4 L379.4 415.6 L380.2 415.7 L381.0 415.8 L381.8 415.9 L382.6 416.0 L383.4 416.1 L384.1 416.2 L384.9 416.3 L385.7 416.4 L386.5 416.5 L387.3 416.6 L388.1 416.7 L388.9 416.8 L389.6 416.9 L390.4 417.0 L391.2 417.1 L392.0 417.2 L392.8 417.3 L393.5 417.4 L394.3 417.4 L395.1 417.6 L395.9 417.7 L396.7 417.8 L397.5 417.8 L398.2 418.0 L399.0 418.1 L399.8 418.2 L400.6 418.3 L401.4 418.4 L402.1 418.4 L402.9 418.5 L403.7 418.7 L404.5 418.8 L405.3 418.8 L406.0 419.0 L406.8 419.1 L407.6 419.2 L408.4 419.2 L409.2 419.4 L409.9 419.4 L410.7 419.5 L411.5 419.6 L412.3 419.7 L413.1 419.8 L413.8 420.0 L414.6 420.1 L415.4 420.2 L416.2 420.3 L417.0 420.4 L417.8 420.5 L418.5 420.6 L419.3 420.7 L420.1 420.8 L420.9 420.9 L421.7 421.0 L422.4 421.1 L423.2 421.3 L424.0 421.4 L424.8 421.5 L425.6 421.6 L426.3 421.7 L427.1 421.8 L427.9 421.9 L428.7 422.0 L429.5 422.2 L430.3 422.3 L431.0 422.4 L431.8 422.5 L432.6 422.7 L433.4 422.8 L434.2 422.9 L435.0 423.0 L435.7 423.2 L436.5 423.3 L437.3 423.4 L438.1 423.5 L438.9 423.7 L439.7 423.8 L440.4 423.9 L441.2 424.1 L442.0 424.2 L442.8 424.3 L443.6 424.5 L444.4 424.7 L445.2 424.8 L446.0 424.9 L446.7 425.1 L447.5 425.2 L448.3 425.3 L449.1 425.5 L449.9 425.7 L450.7 425.8 L451.5 425.9 L452.3 426.1 L453.0 426.3 L453.8 426.4 L454.6 426.5 L455.4 426.7 L456.2 426.9 L457.0 427.0 L457.8 427.2 L458.6 427.4 L459.4 427.5 L460.2 427.7 L461.0 427.8 L461.7 428.0 L462.5 428.1 L463.3 428.3 L464.1 428.4 L464.9 428.6 L465.7 428.8 L466.5 428.9 L467.3 429.1 L468.1 429.3 L468.9 429.4 L469.7 429.6 L470.4 429.7 L471.2 429.9 L472.0 430.0 L472.8 430.2 L473.6 430.4 L474.4 430.5 L475.2 430.7 L476.0 430.9 L476.8 431.0 L477.6 431.2 L478.4 431.3 L479.2 431.5 L480.0 431.7 L480.7 431.8 L481.5 432.0 L482.3 432.1 L483.1 432.3 L483.9 432.4 L484.7 432.6 L485.5 432.8 L486.3 432.9 L487.1 433.1 L487.9 433.2 L488.7 433.4 L489.4 433.5 L490.2 433.7 L491.0 433.8 L491.8 434.0 L492.6 434.1 L493.4 434.3 L494.2 434.4 L495.0 434.6 L495.8 434.7 L496.6 434.8 L497.4 435.0 L498.1 435.1 L498.9 435.3 L499.7 435.4 L500.5 435.6 L501.3 435.7 L502.1 435.8 L502.9 436.0 L503.7 436.1 L504.4 436.3 L505.2 436.4 L506.0 436.5 L506.8 436.6 L507.6 436.7 L508.4 436.9 L509.2 437.0 L510.0 437.1 L510.7 437.2 L511.5 437.4 L512.3 437.5 L513.1 437.6 L513.9 437.7 L514.7 437.8 L515.5 437.9 L516.2 438.0 L517.0 438.1 L517.8 438.2 L518.6 438.3 L519.4 438.4 L520.1 438.6 L520.9 438.6 L521.7 438.7 L522.5 438.8 L523.3 438.9 L524.1 439.0 L524.8 439.1 L525.6 439.1 L526.4 439.2 L527.2 439.3 L527.9 439.4" fill="none" stroke="#00CCFA" stroke-width="3.5" stroke-linejoin="round" stroke-linecap="round"/>
<path d="M77.3 472.0 L92.4 472.1 L92.7 471.3 L92.9 470.5 L93.2 469.8 L93.5 469.0 L93.7 468.3 L94.0 467.5 L94.2 466.7 L94.5 466.0 L94.7 465.2 L94.9 464.4 L95.2 463.7 L95.4 462.9 L95.6 462.2 L95.9 461.4 L96.1 460.6 L96.3 459.8 L96.5 459.1 L96.7 458.3 L97.0 457.6 L97.2 456.8 L97.4 456.0 L97.6 455.2 L97.8 454.5 L98.0 453.7 L98.2 452.9 L98.4 452.2 L98.6 451.3 L98.7 450.6 L98.9 449.8 L99.1 449.1 L99.3 448.2 L99.5 447.4 L99.7 446.7 L99.8 445.9 L100.0 445.2 L100.2 444.4 L100.3 443.6 L100.5 442.8 L100.7 442.0 L100.8 441.3 L101.0 440.6 L101.2 439.7 L101.3 438.9 L101.5 438.1 L101.6 437.4 L101.8 436.5 L102.0 436.0 L102.1 435.0 L102.3 434.2 L102.4 433.5 L102.6 432.8 L102.7 431.9 L102.9 431.1 L103.0 430.3 L103.2 429.5 L103.3 428.9 L103.4 427.9 L103.6 427.2 L103.7 426.4 L103.9 425.7 L104.0 424.9 L104.2 423.9 L104.3 423.6 L104.4 422.5 L104.6 421.7 L104.7 420.9 L104.9 420.1 L105.0 419.4 L105.1 418.7 L105.3 417.8 L105.4 417.1 L105.6 416.1 L105.7 415.4 L105.9 414.6 L106.0 413.9 L106.1 413.2 L106.3 412.1 L106.4 411.5 L106.6 410.9 L106.7 410.1 L106.9 409.0 L107.0 408.5 L107.1 407.7 L107.3 406.8 L107.4 406.3 L107.6 405.1 L107.7 404.4 L107.9 403.8 L108.0 403.0 L108.2 402.1 L108.3 401.6 L108.5 400.8 L108.7 399.9 L108.8 399.2 L109.0 398.2 L109.1 397.2 L109.3 397.0 L109.5 395.7 L109.6 395.4 L109.8 394.3 L110.0 393.6 L110.1 392.7 L110.3 392.1 L110.5 391.1 L110.7 390.7 L110.8 389.7 L111.0 388.9 L111.2 387.9 L111.4 387.3 L111.6 386.5 L111.8 386.1 L111.9 385.1 L112.1 383.9 L112.3 383.7 L112.5 382.1 L112.8 382.1 L113.0 380.7 L113.2 380.3 L113.4 379.7 L113.6 378.7 L113.8 377.8 L114.1 377.5 L114.3 376.1 L114.5 375.4 L114.8 375.2 L115.0 374.0 L115.3 373.5 L115.5 372.8 L115.8 371.9 L116.1 371.2 L116.3 370.4 L116.6 369.7 L116.9 369.2 L117.2 368.4 L117.5 367.5 L117.8 366.9 L118.1 365.8 L118.4 365.1 L118.8 364.3 L119.1 364.0 L119.4 363.4 L119.8 362.4 L120.1 361.2 L120.5 360.8 L120.9 360.3 L121.2 359.6 L121.6 358.8 L122.0 358.3 L122.4 357.6 L122.8 356.4 L123.2 356.1 L123.7 355.2 L124.1 354.7 L124.5 354.3 L125.0 353.8 L125.4 352.9 L125.9 351.9 L126.4 351.3 L126.9 350.8 L127.4 349.8 L127.9 349.4 L128.4 348.9 L128.9 348.4 L129.5 347.5 L130.0 347.0 L130.6 346.7 L131.1 345.8 L131.7 344.7 L132.3 344.6 L132.9 344.0 L133.5 343.3 L134.1 342.9 L134.7 341.9 L135.3 342.1 L135.9 341.4 L136.6 340.6 L137.2 340.3 L137.8 339.8 L138.5 339.2 L139.2 338.3 L139.8 337.8 L140.5 338.6 L141.2 337.5 L141.8 337.3 L142.5 337.1 L143.2 336.6 L143.9 336.6 L144.6 335.9 L145.3 335.9 L146.0 335.1 L146.7 335.5 L147.4 335.3 L148.1 335.0 L148.9 334.9 L149.6 334.7 L150.3 334.8 L151.0 334.7 L151.8 334.3 L152.5 334.7 L153.2 334.3 L154.0 334.5 L154.7 334.5 L155.4 334.8 L156.2 334.7 L156.9 335.0 L157.6 335.1 L158.4 335.2 L159.1 335.8 L159.8 336.0 L160.6 336.3 L161.3 336.6 L162.0 336.6 L162.8 337.3 L163.5 337.3 L164.2 338.0 L164.9 338.3 L165.6 338.8 L166.3 339.3 L167.0 339.6 L167.7 339.9 L168.4 340.7 L169.1 341.2 L169.8 341.6 L170.5 342.2 L171.1 342.3 L171.8 343.1 L172.4 343.6 L173.1 343.8 L173.7 344.7 L174.4 345.2 L175.0 345.5 L175.6 346.1 L176.2 346.8 L176.8 347.4 L177.5 348.0 L178.1 348.3 L178.7 348.9 L179.3 349.5 L179.9 350.2 L180.5 350.7 L181.1 351.3 L181.7 352.0 L182.3 352.5 L182.9 353.0 L183.5 353.4 L184.1 354.1 L184.7 354.8 L185.3 355.4 L185.9 355.9 L186.5 356.2 L187.1 356.9 L187.7 357.3 L188.3 357.7 L188.9 358.5 L189.5 358.9 L190.1 359.8 L190.7 360.3 L191.3 360.7 L191.9 361.3 L192.5 361.9 L193.1 362.5 L193.7 363.0 L194.4 363.6 L195.0 364.0 L195.6 364.6 L196.2 365.1 L196.8 365.6 L197.4 366.0 L198.1 366.6 L198.7 367.0 L199.3 367.7 L199.9 368.0 L200.6 368.5 L201.2 369.2 L201.8 369.5 L202.5 370.0 L203.1 370.4 L203.7 370.9 L204.4 371.5 L205.0 371.9 L205.6 372.6 L206.3 372.9 L206.9 373.3 L207.5 374.0 L208.2 374.4 L208.8 374.6 L209.5 375.2 L210.1 375.8 L210.8 376.1 L211.4 376.6 L212.1 377.1 L212.7 377.4 L213.4 377.9 L214.0 378.5 L214.7 379.0 L215.4 379.3 L216.0 379.8 L216.7 380.2 L217.3 380.6 L218.0 381.1 L218.7 381.4 L219.3 381.9 L220.0 382.4 L220.7 382.8 L221.3 383.0 L222.0 383.6 L222.7 384.0 L223.4 384.4 L224.0 384.7 L224.7 385.2 L225.4 385.5 L226.1 385.8 L226.8 386.4 L227.5 386.7 L228.2 387.1 L228.8 387.5 L229.5 387.9 L230.2 388.3 L230.9 388.7 L231.6 389.1 L232.3 389.5 L233.0 389.8 L233.7 390.1 L234.4 390.5 L235.1 390.7 L235.8 391.1 L236.5 391.5 L237.2 391.7 L238.0 392.2 L238.7 392.6 L239.4 392.8 L240.1 393.1 L240.8 393.5 L241.5 393.9 L242.3 394.1 L243.0 394.5 L243.7 394.8 L244.4 395.0 L245.2 395.4 L245.9 395.7 L246.6 396.0 L247.4 396.3 L248.1 396.6 L248.8 396.9 L249.6 397.2 L250.3 397.5 L251.0 397.8 L251.8 398.1 L252.5 398.2 L253.3 398.5 L254.0 398.8 L254.8 399.2 L255.5 399.4 L256.3 399.6 L257.0 399.8 L257.8 400.1 L258.5 400.4 L259.3 400.6 L260.0 400.9 L260.8 401.2 L261.6 401.4 L262.3 401.7 L263.1 401.8 L263.9 402.1 L264.6 402.4 L265.4 402.5 L266.1 402.9 L266.9 403.0 L267.7 403.2 L268.5 403.5 L269.2 403.7 L270.0 403.9 L270.8 404.1 L271.5 404.3 L272.3 404.6 L273.1 404.7 L273.9 405.0 L274.6 405.2 L275.4 405.4 L276.2 405.6 L277.0 405.8 L277.8 406.0 L278.5 406.2 L279.3 406.4 L280.1 406.6 L280.9 406.8 L281.7 407.0 L282.4 407.2 L283.2 407.2 L284.0 407.5 L284.8 407.6 L285.6 407.8 L286.4 408.0 L287.2 408.1 L287.9 408.3 L288.7 408.4 L289.5 408.6 L290.3 408.8 L291.1 408.9 L291.9 409.2 L292.7 409.3 L293.5 409.4 L294.2 409.6 L295.0 409.8 L295.8 409.8 L296.6 410.1 L297.4 410.2 L298.2 410.3 L299.0 410.5 L299.8 410.7 L300.6 410.9 L301.4 410.9 L302.2 411.0 L302.9 411.2 L303.7 411.3 L304.5 411.5 L305.3 411.6 L306.1 411.7 L306.9 411.9 L307.7 411.9 L308.5 412.1 L309.3 412.2 L310.1 412.4 L310.9 412.5 L311.7 412.7 L312.4 412.7 L313.2 412.9 L314.0 413.0 L314.8 413.2 L315.6 413.3 L316.4 413.3 L317.2 413.4 L318.0 413.6 L318.8 413.7 L319.6 413.8 L320.4 413.9 L321.2 414.0 L322.0 414.1 L322.8 414.2 L323.5 414.3 L324.3 414.4 L325.1 414.5 L325.9 414.6 L326.7 414.7 L327.5 414.8 L328.3 414.9 L329.1 415.0 L329.9 415.1 L330.7 415.2 L331.5 415.3 L332.3 415.4 L333.1 415.5 L333.9 415.5 L334.7 415.7 L335.5 415.7 L336.2 415.9 L337.0 416.0 L337.8 416.0 L338.6 416.1 L339.4 416.2 L340.2 416.3 L341.0 416.3 L341.8 416.4 L342.6 416.5 L343.4 416.5 L344.2 416.6 L345.0 416.7 L345.8 416.8 L346.6 416.9 L347.4 416.9 L348.2 417.1 L349.0 417.1 L349.8 417.2 L350.6 417.2 L351.4 417.3 L352.1 417.4 L352.9 417.5 L353.7 417.5 L354.5 417.6 L355.3 417.7 L356.1 417.7 L356.9 417.7 L357.7 417.8 L358.5 417.9 L359.3 417.9 L360.1 418.0 L360.9 418.1 L361.7 418.2 L362.5 418.2 L363.3 418.3 L364.1 418.3 L364.9 418.3 L365.7 418.4 L366.5 418.5 L367.3 418.6 L368.1 418.6 L368.9 418.6 L369.7 418.7 L370.5 418.8 L371.3 418.8 L372.1 418.9 L372.9 418.9 L373.6 418.9 L374.4 419.0 L375.2 419.0 L376.0 419.1 L376.8 419.1 L377.6 419.2 L378.4 419.3 L379.2 419.3 L380.0 419.3 L380.8 419.4 L381.6 419.4 L382.4 419.5 L383.2 419.5 L384.0 419.6 L384.8 419.6 L385.6 419.6 L386.4 419.7 L387.2 419.7 L388.0 419.8 L388.8 419.8 L389.6 419.8 L390.4 419.8 L391.2 419.9 L392.0 420.0 L392.8 420.0 L393.6 420.0 L394.4 420.1 L395.2 420.1 L396.0 420.1 L396.8 420.2 L397.6 420.3 L398.4 420.3 L399.2 420.4 L400.0 420.4 L400.8 420.4 L401.6 420.4 L402.4 420.5 L403.2 420.5 L404.0 420.5 L404.8 420.6 L405.5 420.6 L406.3 420.6 L407.1 420.6 L407.9 420.7 L408.7 420.8 L409.5 420.8 L410.3 420.8 L411.1 420.9 L411.9 420.9 L412.7 420.9 L413.5 421.0 L414.3 421.0 L415.1 421.1 L415.9 421.1 L416.7 421.1 L417.5 421.1 L418.3 421.2 L419.1 421.2 L419.9 421.2 L420.7 421.3 L421.5 421.3 L422.3 421.4 L423.1 421.4 L423.9 421.4 L424.7 421.4 L425.5 421.5 L426.3 421.5 L427.1 421.6 L427.9 421.6 L428.7 421.6 L429.5 421.7 L430.3 421.7 L431.1 421.8 L431.9 421.8 L432.7 421.8 L433.5 421.9 L434.3 421.9 L435.1 421.9 L435.9 422.0 L436.7 422.0 L437.5 422.0 L438.3 422.1 L439.1 422.1 L439.9 422.2 L440.7 422.2 L441.5 422.2 L442.3 422.3 L443.1 422.3 L443.9 422.3 L444.7 422.4 L445.5 422.4 L446.3 422.5 L447.0 422.5 L447.8 422.6 L448.6 422.6 L449.4 422.6 L450.2 422.7 L451.0 422.7 L451.8 422.8 L452.6 422.8 L453.4 422.8 L454.2 422.9 L455.0 422.9 L455.8 423.0 L456.6 423.0 L457.4 423.1 L458.2 423.1 L459.0 423.2 L459.8 423.3 L460.6 423.3 L461.4 423.3 L462.2 423.4 L463.0 423.4 L463.8 423.5 L464.6 423.5 L465.4 423.6 L466.2 423.6 L467.0 423.7 L467.8 423.7 L468.6 423.8 L469.4 423.8 L470.2 423.9 L471.0 424.0 L471.8 424.0 L472.6 424.1 L473.4 424.2 L474.2 424.2 L475.0 424.3 L475.8 424.3 L476.6 424.4 L477.4 424.4 L478.2 424.5 L479.0 424.6 L479.8 424.6 L480.5 424.7 L481.3 424.8 L482.1 424.8 L482.9 424.9 L483.7 425.0 L484.5 425.1 L485.3 425.1 L486.1 425.2 L486.9 425.3 L487.7 425.3 L488.5 425.4 L489.3 425.5 L490.1 425.6 L490.9 425.6 L491.7 425.7 L492.5 425.8 L493.3 425.9 L494.1 426.0 L494.9 426.0 L495.7 426.1 L496.5 426.2 L497.3 426.3 L498.1 426.4 L498.9 426.5 L499.7 426.5 L500.5 426.6 L501.3 426.7 L502.1 426.8 L502.8 426.9 L503.6 427.0 L504.4 427.1 L505.2 427.2 L506.0 427.3 L506.8 427.4 L507.6 427.5 L508.4 427.6 L509.2 427.7 L510.0 427.8 L510.8 427.9 L511.6 428.0 L512.4 428.1 L513.2 428.2 L514.0 428.3 L514.8 428.4 L515.6 428.5 L516.4 428.6 L517.2 428.7 L518.0 428.8 L518.8 429.0 L519.5 429.1 L520.3 429.2 L521.1 429.3 L521.9 429.4 L522.7 429.6 L523.5 429.7 L524.3 429.8 L525.1 429.9 L525.9 430.1 L526.7 430.2 L527.5 430.3 L528.3 430.4 L529.1 430.6" fill="none" stroke="#60FC00" stroke-width="3.5" stroke-linejoin="round" stroke-linecap="round"/>
<path d="M77.3 472.0 L90.2 472.1 L90.5 471.3 L90.7 470.6 L90.9 469.8 L91.2 469.0 L91.4 468.2 L91.6 467.5 L91.8 466.7 L92.1 465.9 L92.3 465.2 L92.5 464.4 L92.7 463.6 L92.9 462.8 L93.1 462.1 L93.3 461.3 L93.5 460.5 L93.7 459.8 L93.9 458.9 L94.1 458.2 L94.3 457.4 L94.5 456.6 L94.7 455.8 L94.8 455.1 L95.0 454.3 L95.2 453.5 L95.4 452.7 L95.5 452.0 L95.7 451.3 L95.9 450.5 L96.1 449.7 L96.2 448.9 L96.4 448.0 L96.5 447.3 L96.7 446.5 L96.9 445.7 L97.0 445.1 L97.2 444.2 L97.3 443.4 L97.5 442.7 L97.6 441.8 L97.8 441.0 L97.9 440.2 L98.0 439.5 L98.2 438.7 L98.3 437.9 L98.5 437.2 L98.6 436.4 L98.7 435.5 L98.9 434.8 L99.0 434.0 L99.1 433.1 L99.3 432.5 L99.4 431.6 L99.5 430.8 L99.6 430.1 L99.8 429.1 L99.9 428.4 L100.0 427.7 L100.1 426.9 L100.2 426.1 L100.4 425.2 L100.5 424.4 L100.6 423.7 L100.7 423.0 L100.8 422.0 L100.9 421.2 L101.0 420.6 L101.1 419.8 L101.3 418.9 L101.4 418.3 L101.5 417.5 L101.6 416.6 L101.7 415.8 L101.8 415.1 L101.9 414.2 L102.0 413.3 L102.1 412.7 L102.2 411.8 L102.3 411.2 L102.4 410.3 L102.5 409.5 L102.6 408.8 L102.7 407.9 L102.8 407.1 L102.9 406.2 L103.0 405.8 L103.1 404.9 L103.2 403.8 L103.3 403.0 L103.4 402.5 L103.5 401.5 L103.6 400.8 L103.7 400.1 L103.8 399.2 L103.9 398.4 L104.0 397.6 L104.1 396.8 L104.2 396.1 L104.3 395.5 L104.4 394.6 L104.5 393.6 L104.6 393.0 L104.7 392.1 L104.8 391.0 L104.9 390.5 L105.0 389.9 L105.1 388.8 L105.2 388.3 L105.4 387.3 L105.5 386.5 L105.6 385.5 L105.7 385.3 L105.8 384.2 L105.9 383.6 L106.0 382.5 L106.1 381.5 L106.2 381.2 L106.3 380.0 L106.4 379.7 L106.5 378.6 L106.7 378.1 L106.8 376.9 L106.9 375.9 L107.0 375.6 L107.1 374.6 L107.2 373.8 L107.4 373.3 L107.5 372.1 L107.6 371.2 L107.7 370.4 L107.8 369.5 L108.0 368.7 L108.1 368.0 L108.2 367.3 L108.3 366.6 L108.5 365.6 L108.6 365.1 L108.7 364.5 L108.9 363.5 L109.0 362.8 L109.2 361.7 L109.3 361.2 L109.5 360.5 L109.6 359.4 L109.8 358.4 L109.9 357.9 L110.1 357.2 L110.2 356.8 L110.4 355.5 L110.6 355.2 L110.7 353.4 L110.9 353.2 L111.1 352.4 L111.3 351.6 L111.5 350.8 L111.7 350.1 L111.9 349.8 L112.1 348.5 L112.3 348.1 L112.5 347.0 L112.7 346.3 L112.9 344.8 L113.1 344.7 L113.4 344.1 L113.6 342.8 L113.8 342.2 L114.1 341.4 L114.3 341.4 L114.6 339.8 L114.8 339.1 L115.1 337.8 L115.4 337.4 L115.7 337.1 L115.9 335.9 L116.2 334.7 L116.5 334.7 L116.8 334.1 L117.2 333.4 L117.5 332.6 L117.8 331.6 L118.2 331.9 L118.5 330.2 L118.9 329.8 L119.3 328.6 L119.7 328.1 L120.1 327.2 L120.5 327.1 L120.9 326.3 L121.4 325.5 L121.9 324.6 L122.4 324.9 L122.9 324.4 L123.5 324.0 L124.0 323.2 L124.6 323.1 L125.2 322.8 L125.9 322.3 L126.5 322.3 L127.2 321.5 L127.9 321.4 L128.7 320.6 L129.4 321.6 L130.2 320.5 L131.0 320.7 L131.7 320.7 L132.5 320.2 L133.3 320.4 L134.2 320.6 L135.0 320.4 L135.8 320.3 L136.7 320.3 L137.5 320.3 L138.3 320.5 L139.2 320.7 L140.0 320.8 L140.8 321.1 L141.7 320.9 L142.5 320.9 L143.3 321.4 L144.1 321.4 L144.9 321.7 L145.7 321.7 L146.5 322.0 L147.3 322.2 L148.1 322.5 L148.9 322.3 L149.6 322.8 L150.4 323.1 L151.1 323.7 L151.9 323.6 L152.6 324.0 L153.3 324.2 L154.0 324.2 L154.7 325.2 L155.4 325.5 L156.1 326.0 L156.7 325.8 L157.4 326.6 L158.0 327.0 L158.7 327.1 L159.3 327.9 L159.9 328.2 L160.5 328.9 L161.1 328.9 L161.8 329.6 L162.3 330.1 L162.9 330.5 L163.5 331.3 L164.1 332.0 L164.7 332.3 L165.3 333.0 L165.8 333.6 L166.4 334.0 L167.0 334.4 L167.5 334.7 L168.1 335.6 L168.7 336.1 L169.2 336.6 L169.8 337.4 L170.4 337.9 L170.9 338.1 L171.5 339.0 L172.1 339.4 L172.6 340.2 L173.2 340.6 L173.8 341.3 L174.4 341.6 L174.9 342.2 L175.5 342.8 L176.1 343.4 L176.7 343.9 L177.3 344.7 L177.8 344.9 L178.4 345.6 L179.0 346.0 L179.6 346.5 L180.2 347.2 L180.7 347.6 L181.3 348.4 L181.9 348.9 L182.5 349.4 L183.1 350.1 L183.7 350.8 L184.3 351.1 L184.8 351.5 L185.4 352.2 L186.0 352.8 L186.6 353.5 L187.2 353.9 L187.8 354.4 L188.4 355.1 L189.0 355.7 L189.6 356.1 L190.2 356.7 L190.8 357.2 L191.4 358.0 L192.0 358.2 L192.6 358.8 L193.1 359.3 L193.7 360.0 L194.3 360.4 L194.9 361.0 L195.5 361.6 L196.1 362.2 L196.8 362.5 L197.4 363.1 L198.0 363.6 L198.6 364.0 L199.2 364.6 L199.8 365.2 L200.4 365.7 L201.0 366.5 L201.6 366.9 L202.2 367.4 L202.8 367.9 L203.4 368.3 L204.0 368.8 L204.7 369.3 L205.3 369.9 L205.9 370.6 L206.5 370.9 L207.1 371.3 L207.7 371.9 L208.4 372.5 L209.0 372.9 L209.6 373.5 L210.2 373.8 L210.9 374.3 L211.5 374.9 L212.1 375.4 L212.7 376.0 L213.4 376.3 L214.0 376.9 L214.6 377.3 L215.3 377.9 L215.9 378.3 L216.5 378.7 L217.2 379.4 L217.8 379.8 L218.4 380.1 L219.1 380.8 L219.7 381.1 L220.4 381.6 L221.0 382.1 L221.7 382.5 L222.3 383.1 L223.0 383.5 L223.6 384.1 L224.3 384.4 L224.9 384.9 L225.6 385.3 L226.2 385.9 L226.9 386.1 L227.5 386.6 L228.2 387.1 L228.9 387.6 L229.5 388.0 L230.2 388.4 L230.9 388.8 L231.5 389.2 L232.2 389.8 L232.9 390.1 L233.6 390.5 L234.2 390.9 L234.9 391.4 L235.6 391.8 L236.3 392.2 L237.0 392.6 L237.6 393.0 L238.3 393.4 L239.0 393.8 L239.7 394.2 L240.4 394.6 L241.1 395.1 L241.8 395.3 L242.5 395.7 L243.2 396.1 L243.9 396.6 L244.6 396.9 L245.3 397.2 L246.0 397.7 L246.7 398.0 L247.4 398.3 L248.1 398.7 L248.8 399.1 L249.5 399.4 L250.3 399.8 L251.0 400.2 L251.7 400.5 L252.4 400.9 L253.1 401.2 L253.9 401.6 L254.6 401.9 L255.3 402.2 L256.0 402.5 L256.8 402.8 L257.5 403.2 L258.2 403.6 L259.0 403.7 L259.7 404.2 L260.4 404.4 L261.2 404.8 L261.9 405.1 L262.6 405.4 L263.4 405.8 L264.1 406.0 L264.9 406.3 L265.6 406.6 L266.4 406.9 L267.1 407.2 L267.8 407.4 L268.6 407.7 L269.3 408.0 L270.1 408.3 L270.9 408.6 L271.6 408.8 L272.4 409.2 L273.1 409.3 L273.9 409.7 L274.6 409.9 L275.4 410.1 L276.2 410.4 L276.9 410.7 L277.7 411.0 L278.4 411.2 L279.2 411.4 L280.0 411.6 L280.7 411.9 L281.5 412.2 L282.3 412.4 L283.0 412.6 L283.8 412.8 L284.6 413.0 L285.3 413.2 L286.1 413.5 L286.9 413.7 L287.7 414.0 L288.4 414.1 L289.2 414.4 L290.0 414.5 L290.8 414.7 L291.5 415.0 L292.3 415.2 L293.1 415.3 L293.9 415.5 L294.7 415.7 L295.4 415.9 L296.2 416.1 L297.0 416.2 L297.8 416.5 L298.6 416.5 L299.3 416.8 L300.1 416.9 L300.9 417.0 L301.7 417.3 L302.5 417.4 L303.3 417.6 L304.1 417.8 L304.8 417.8 L305.6 418.1 L306.4 418.2 L307.2 418.4 L308.0 418.4 L308.8 418.6 L309.6 418.7 L310.3 418.9 L311.1 419.0 L311.9 419.1 L312.7 419.2 L313.5 419.4 L314.3 419.5 L315.1 419.6 L315.9 419.7 L316.7 419.8 L317.4 419.9 L318.2 420.0 L319.0 420.1 L319.8 420.2 L320.6 420.4 L321.4 420.4 L322.2 420.5 L323.0 420.6 L323.8 420.7 L324.6 420.8 L325.4 420.9 L326.2 420.9 L326.9 421.0 L327.7 421.1 L328.5 421.2 L329.3 421.3 L330.1 421.4 L330.9 421.4 L331.7 421.4 L332.5 421.5 L333.3 421.6 L334.1 421.6 L334.9 421.7 L335.7 421.8 L336.5 421.8 L337.3 421.8 L338.1 422.0 L338.9 422.0 L339.7 422.0 L340.5 422.1 L341.3 422.1 L342.0 422.2 L342.8 422.2 L343.6 422.3 L344.4 422.3 L345.2 422.3 L346.0 422.3 L346.8 422.4 L347.6 422.4 L348.4 422.4 L349.2 422.5 L350.0 422.5 L350.8 422.5 L351.6 422.5 L352.4 422.5 L353.2 422.6 L354.0 422.6 L354.8 422.7 L355.6 422.6 L356.4 422.6 L357.2 422.7 L358.0 422.7 L358.8 422.7 L359.6 422.7 L360.4 422.7 L361.2 422.8 L362.0 422.8 L362.8 422.8 L363.6 422.8 L364.4 422.8 L365.2 422.8 L366.0 422.8 L366.8 422.8 L367.6 422.8 L368.4 422.8 L369.2 422.8 L370.0 422.8 L370.8 422.8 L371.6 422.8 L372.4 422.8 L373.2 422.8 L374.0 422.8 L374.8 422.8 L375.6 422.8 L376.4 422.8 L377.2 422.8 L378.0 422.8 L378.8 422.8 L379.6 422.8 L380.4 422.8 L381.2 422.8 L382.0 422.8 L382.8 422.8 L383.6 422.8 L384.4 422.8 L385.2 422.7 L386.0 422.8 L386.8 422.7 L387.6 422.8 L388.4 422.8 L389.2 422.7 L390.0 422.7 L390.8 422.7 L391.6 422.7 L392.4 422.7 L393.2 422.7 L394.0 422.7 L394.8 422.7 L395.6 422.7 L396.4 422.7 L397.2 422.7 L398.0 422.7 L398.8 422.7 L399.6 422.7 L400.4 422.6 L401.2 422.7 L402.0 422.6 L402.8 422.6 L403.6 422.7 L404.4 422.6 L405.2 422.7 L406.0 422.6 L406.8 422.7 L407.6 422.6 L408.4 422.6 L409.2 422.7 L410.0 422.7 L410.8 422.6 L411.6 422.7 L412.4 422.6 L413.2 422.7 L414.0 422.7 L414.8 422.7 L415.6 422.7 L416.4 422.7 L417.2 422.7 L418.0 422.7 L418.8 422.7 L419.6 422.8 L420.4 422.7 L421.2 422.7 L422.0 422.8 L422.8 422.8 L423.6 422.8 L424.4 422.9 L425.2 422.8 L426.0 422.9 L426.8 422.9 L427.6 422.9 L428.4 422.9 L429.2 422.9 L430.0 422.9 L430.8 423.0 L431.6 423.0 L432.4 423.0 L433.2 423.1 L434.0 423.1 L434.8 423.1 L435.6 423.1 L436.4 423.1 L437.2 423.2 L438.0 423.2 L438.8 423.2 L439.6 423.3 L440.4 423.3 L441.2 423.3 L442.0 423.4 L442.8 423.4 L443.6 423.4 L444.4 423.4 L445.2 423.5 L446.0 423.5 L446.8 423.5 L447.6 423.6 L448.4 423.6 L449.2 423.6 L450.0 423.6 L450.8 423.7 L451.6 423.7 L452.4 423.7 L453.2 423.8 L454.0 423.8 L454.8 423.8 L455.6 423.9 L456.4 423.9 L457.2 424.0 L458.0 424.0 L458.8 424.0 L459.6 424.1 L460.4 424.1 L461.2 424.1 L462.0 424.2 L462.8 424.2 L463.6 424.3 L464.4 424.3 L465.1 424.3 L465.9 424.4 L466.7 424.4 L467.5 424.5 L468.3 424.5 L469.1 424.6 L469.9 424.6 L470.7 424.7 L471.5 424.7 L472.3 424.7 L473.1 424.8 L473.9 424.8 L474.7 424.9 L475.5 424.9 L476.3 424.9 L477.1 425.0 L477.9 425.0 L478.7 425.1 L479.5 425.2 L480.3 425.2 L481.1 425.2 L481.9 425.3 L482.7 425.3 L483.5 425.4 L484.3 425.4 L485.1 425.5 L485.9 425.5 L486.7 425.6 L487.5 425.6 L488.3 425.7 L489.1 425.7 L489.9 425.8 L490.7 425.8 L491.5 425.8 L492.3 425.9 L493.1 425.9 L493.9 426.0 L494.7 426.0 L495.5 426.1 L496.3 426.1 L497.1 426.2 L497.9 426.2 L498.7 426.3 L499.5 426.3 L500.3 426.4 L501.1 426.4 L501.9 426.5 L502.7 426.5 L503.5 426.6 L504.3 426.6 L505.1 426.7 L505.9 426.7 L506.6 426.8 L507.4 426.8 L508.2 426.9 L509.0 426.9 L509.8 427.0 L510.6 427.0 L511.4 427.1 L512.2 427.1 L513.0 427.2 L513.8 427.2 L514.6 427.3 L515.4 427.3 L516.2 427.4 L517.0 427.4 L517.8 427.5 L518.6 427.5 L519.4 427.6 L520.2 427.6 L521.0 427.7 L521.8 427.7 L522.6 427.8 L523.4 427.8 L524.2 427.9 L525.0 427.9 L525.8 428.0 L526.6 428.0 L527.4 428.1 L528.2 428.1 L529.0 428.2" fill="none" stroke="#FF5000" stroke-width="3.5" stroke-linejoin="round" stroke-linecap="round"/>
<g font-family='"Liberation Sans", Arial, sans-serif' font-size="17.5" fill="#000" stroke="#000" stroke-width="0.2">
<text x="76.0" y="500.6" text-anchor="middle">0</text>
<text x="171.0" y="500.6" text-anchor="middle">1</text>
<text x="266.0" y="500.6" text-anchor="middle">2</text>
<text x="361.0" y="500.6" text-anchor="middle">3</text>
<text x="456.0" y="500.6" text-anchor="middle">4</text>
<text x="551.0" y="500.6" text-anchor="middle">5</text>
<text x="61.8" y="477.4" text-anchor="end">0</text>
<text x="61.8" y="392.8" text-anchor="end">2</text>
<text x="61.8" y="308.2" text-anchor="end">4</text>
<text x="61.8" y="223.6" text-anchor="end">6</text>
<text x="61.8" y="139.0" text-anchor="end">8</text>
<text x="61.8" y="54.4" text-anchor="end">10</text>
</g>
<g fill="#fff"><rect x="166.48" y="497.90" width="4.01" height="3.40"/><rect x="172.18" y="497.90" width="3.88" height="3.40"/><rect x="42.68" y="51.70" width="4.01" height="3.40"/><rect x="48.38" y="51.70" width="3.88" height="3.40"/></g>
<text x="337.3" y="533.8" text-anchor="middle" font-family='"Liberation Sans", Arial, sans-serif' font-size="22.2" stroke="#000" stroke-width="0.12">r (nm)</text>
<text transform="translate(17.3 247.6) rotate(-90)" text-anchor="middle" font-family='"Liberation Sans", Arial, sans-serif' font-size="22.2" stroke="#000" stroke-width="0.12">g (r)</text>
<rect x="513.5" y="1.5" width="169" height="111" fill="#fff" stroke="#707070" stroke-width="1"/>
<path d="M515.6 16.3 H565.6" stroke="#4400FE" stroke-width="1.4" stroke-opacity="0.9"/>
<text x="570.2" y="23.5" font-family='"Liberation Sans", Arial, sans-serif' font-size="22" fill="#000" stroke="#000" stroke-width="0.25">bezafibrate</text>
<path d="M515.6 43.4 H565.6" stroke="#00CCFA" stroke-width="1.4" stroke-opacity="0.9"/>
<text x="570.2" y="50.6" font-family='"Liberation Sans", Arial, sans-serif' font-size="22" fill="#000" stroke="#000" stroke-width="0.25">flurbiprofen</text>
<path d="M515.6 70.5 H565.6" stroke="#60FC00" stroke-width="1.4" stroke-opacity="0.9"/>
<text x="570.2" y="77.7" font-family='"Liberation Sans", Arial, sans-serif' font-size="22" fill="#000" stroke="#000" stroke-width="0.25">miconazol</text>
<path d="M515.6 97.6 H565.6" stroke="#FF5000" stroke-width="1.4" stroke-opacity="0.9"/>
<text x="570.2" y="104.8" font-family='"Liberation Sans", Arial, sans-serif' font-size="22" fill="#000" stroke="#000" stroke-width="0.25">phenytoin</text>
</svg>
</body></html>
